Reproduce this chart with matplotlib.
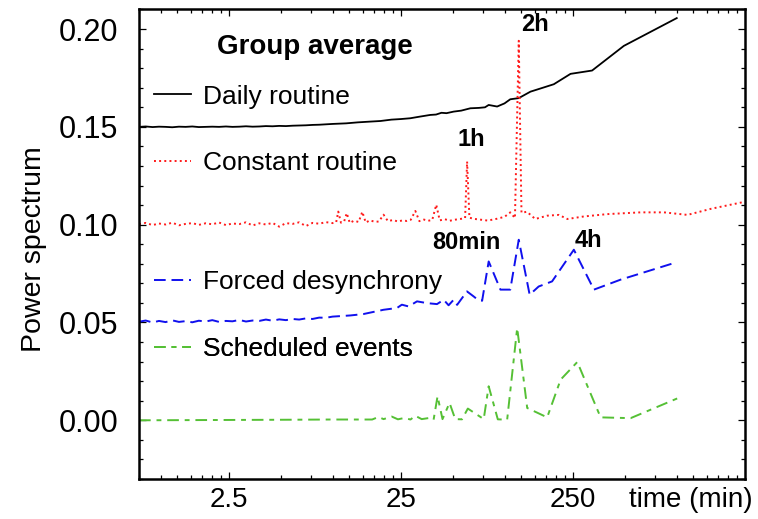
import numpy as np
import matplotlib
matplotlib.use("Agg")
import matplotlib.pyplot as plt
from matplotlib.ticker import FixedLocator, MultipleLocator, NullFormatter, FormatStrFormatter

plt.rcParams['font.family'] = ['Liberation Sans', 'DejaVu Sans']

# shared grid for the dense short-period part (min)
x_short = [0.75, 0.82, 0.9, 0.98, 1.07, 1.17, 1.28, 1.4, 1.53, 1.67, 1.83, 2.0, 2.19, 2.4, 2.62,
           2.87, 3.14, 3.43, 3.75, 4.1, 4.48, 4.9, 5.36, 5.86, 6.4, 7.0, 7.65, 8.37, 9.15, 10.0]

# Daily routine
daily_x = x_short + [12.0, 14.0, 16.6, 19.0, 22.0, 25.0, 28.3, 32.0, 37.0, 40.0, 43.0, 46.0, 50.6, 56.0,
                     63.3, 71.0, 77.0, 80.9, 90.6, 100.0, 108.0, 121.0, 141.5, 167.0, 193.5, 242.0,
                     323.0, 494.0, 1003.0]
daily_y = [0.1500, 0.1502, 0.1499, 0.1501, 0.1500, 0.1498, 0.1501, 0.1500, 0.1502, 0.1499, 0.1500,
           0.1501, 0.1500, 0.1502, 0.1500, 0.1501, 0.1503, 0.1501, 0.1502, 0.1504, 0.1503, 0.1505,
           0.1504, 0.1506, 0.1507, 0.1508, 0.1510, 0.1511, 0.1513, 0.1515,
           0.1518, 0.1523, 0.1527, 0.1530, 0.1537, 0.1540, 0.1544, 0.1552, 0.1561, 0.1563, 0.1572,
           0.1570, 0.1578, 0.1583, 0.1595, 0.1597, 0.1600, 0.1612, 0.1604, 0.1620, 0.1641, 0.1647,
           0.1680, 0.1700, 0.1718, 0.1771, 0.1788, 0.1914, 0.2056]

# Constant routine
const_x = x_short + [10.5, 10.8, 11.2, 11.7, 12.1, 12.6, 13.3, 14.2, 14.9, 15.6, 16.5, 17.6, 18.6, 19.8,
                     21.0, 22.5, 24.0, 25.5, 27.0, 28.5, 30.3, 32.0, 34.0, 36.0, 38.0, 40.1, 42.0,
                     45.0, 48.0, 52.0, 56.0, 59.0, 60.6, 62.5, 66.0, 72.0, 80.0, 90.0, 100.0, 108.0,
                     115.0, 121.0, 125.5, 135.0, 151.0, 177.0, 207.0, 232.0, 289.0, 396.0, 619.0,
                     846.0, 1158.0, 1583.0, 2429.0]
const_y = [0.1003, 0.1009, 0.0998, 0.1006, 0.1001, 0.1010, 0.0997, 0.1004, 0.1008, 0.0999, 0.1007,
           0.1002, 0.1011, 0.0998, 0.1006, 0.1003, 0.1012, 0.0996, 0.1007, 0.1001, 0.1009, 0.0990,
           0.1008, 0.1004, 0.1012, 0.0993, 0.1009, 0.1005, 0.1013, 0.1008,
           0.1012, 0.1067, 0.1010, 0.1018, 0.1059, 0.1009, 0.1020, 0.1014, 0.1066, 0.1011, 0.1022,
           0.1015, 0.1016, 0.1051, 0.1018, 0.1024, 0.1016, 0.1022, 0.1019, 0.1025, 0.1070, 0.1018,
           0.1026, 0.1020, 0.1024, 0.1102, 0.1022, 0.1028, 0.1020, 0.1026, 0.1030, 0.1034, 0.1323,
           0.1036, 0.1030, 0.1026, 0.1021, 0.1030, 0.1040, 0.1063, 0.1034, 0.1940, 0.1061, 0.1066,
           0.1029, 0.1046, 0.1050, 0.1029, 0.1042, 0.1054, 0.1063, 0.1063, 0.1050, 0.1081, 0.1115]

# Forced desynchrony
forced_x = x_short + [12.7, 15.1, 19.8, 23.7, 25.3, 27.7, 31.0, 35.4, 40.5, 44.3, 47.3, 50.6, 53.0,
                      60.5, 66.2, 69.5, 74.1, 80.9, 94.7, 108.0, 121.0, 140.0, 158.0, 189.0, 253.0,
                      331.0, 473.0, 968.0]
forced_y = [0.0504, 0.0510, 0.0500, 0.0508, 0.0502, 0.0511, 0.0503, 0.0507, 0.0501, 0.0509, 0.0505,
            0.0512, 0.0503, 0.0508, 0.0506, 0.0513, 0.0505, 0.0510, 0.0508, 0.0515, 0.0509, 0.0516,
            0.0512, 0.0518, 0.0515, 0.0521, 0.0518, 0.0525, 0.0524, 0.0530,
            0.0536, 0.0543, 0.0565, 0.0574, 0.0591, 0.0582, 0.0608, 0.0599, 0.0594, 0.0616, 0.0588,
            0.0616, 0.0590, 0.0659, 0.0633, 0.0618, 0.0611, 0.0812, 0.0668, 0.0668, 0.0923, 0.0642,
            0.0684, 0.0710, 0.0872, 0.0668, 0.0719, 0.0804]

# Scheduled events
sched_x = [0.75, 1.5, 3.0, 6.0, 9.7, 13.0, 17.0, 18.5, 19.8, 22.1, 24.0, 26.2, 28.4, 30.3, 33.0, 36.6,
           38.7, 40.8, 43.6, 47.9, 51.7, 56.6, 61.2, 75.7, 80.9, 91.4, 103.6, 118.5, 135.5, 177.0,
           212.0, 265.0, 362.0, 541.0, 1083.0]
sched_y = [0.0000, 0.0001, 0.0002, 0.0003, 0.0004, 0.0004, 0.0004, 0.0017, 0.0006, 0.0019, 0.0005,
           0.0012, 0.0004, 0.0023, 0.0006, 0.0012, 0.0003, 0.0123, 0.0006, 0.0089, 0.0006, 0.0005,
           0.0060, 0.0006, 0.0174, 0.0005, 0.0003, 0.0472, 0.0063, 0.0015, 0.0208, 0.0298, 0.0015,
           0.0011, 0.0123]

labels = ['Daily routine', 'Constant routine', 'Forced desynchrony', 'Scheduled events']
peak_labels = ['2h', '1h', '80min', '4h']
peak_pos = [(151, 0.2021), (64.1, 0.1433), (60.0, 0.0907), (308, 0.0918)]

fig = plt.figure(figsize=(7.58, 5.19), dpi=100)
ax = fig.add_axes([0.1834, 0.0771, 0.7994, 0.9046])

l1, = ax.plot(daily_x, daily_y, color='black', lw=1.3)
l2, = ax.plot(const_x, const_y, color='#ff1a1a', lw=1.4, ls=':')
l3, = ax.plot(forced_x, forced_y, color='#1010ee', lw=1.4, dashes=(6, 3))
l4, = ax.plot(sched_x, sched_y, color='#55c035', lw=1.4, dashes=(6, 3, 2.5, 3))

ax.set_xscale('log')
ax.set_xlim(0.75, 2500)
ax.set_ylim(-0.03, 0.21)

ax.xaxis.set_major_locator(FixedLocator([2.5, 25, 250]))
ax.xaxis.set_major_formatter(FormatStrFormatter('%g'))
ax.xaxis.set_minor_locator(FixedLocator([m * b for b in (0.25, 2.5, 25, 250) for m in range(1, 10)]))
ax.xaxis.set_minor_formatter(NullFormatter())
ax.yaxis.set_major_locator(MultipleLocator(0.05))
ax.yaxis.set_minor_locator(MultipleLocator(0.01))
ax.yaxis.set_major_formatter(FormatStrFormatter('%.2f'))

ax.tick_params(which='both', direction='in', top=True, right=True, width=0.9)
ax.tick_params(which='major', length=5)
ax.tick_params(which='minor', length=3)
ax.tick_params(axis='x', labelsize=20, pad=6)
ax.tick_params(axis='y', labelsize=22, pad=15)
for s in ax.spines.values():
    s.set_linewidth(1.8)

ax.set_ylabel('Power spectrum', fontsize=20.5)
ax.yaxis.set_label_coords(-0.152, 0.49)
ax.annotate('time (min)', xy=(0.911, 0), xycoords='axes fraction', xytext=(0, -6),
            textcoords='offset points', ha='center', va='top', fontsize=20)

# one legend per curve, placed next to it
leg_y = [0.8143, 0.673, 0.419, 0.277]
for line, lab, yy in zip([l1, l2, l3, l4], labels, leg_y):
    leg = ax.legend([line], [lab], loc='center left', bbox_to_anchor=(0.0248, yy),
                    frameon=False, fontsize=19, handlelength=1.4, handletextpad=0.45,
                    borderpad=0, borderaxespad=0)
    ax.add_artist(leg)

ax.text(0.29, 0.92, 'Group average', transform=ax.transAxes, ha='center', va='center',
        fontsize=20, fontweight='bold')
for txt, (px, py) in zip(peak_labels, peak_pos):
    ax.text(px, py, txt, ha='center', va='center', fontsize=17, fontweight='bold')

fig.savefig('out.png', dpi=100)
